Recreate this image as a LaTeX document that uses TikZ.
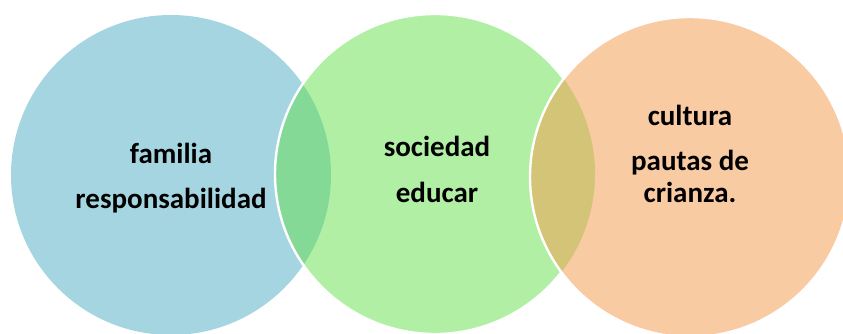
\documentclass[tikz,border=0pt]{standalone}
\usepackage{fontspec}
\setmainfont{Carlito}
\definecolor{cblue}{HTML}{A6D5E2}
\definecolor{cgreen}{HTML}{B1F0A4}
\definecolor{corange}{HTML}{F9CBA3}
\definecolor{ovgreen}{HTML}{85D996}
\definecolor{ovolive}{HTML}{D3C477}
\tikzset{
  venn/.style={circle, minimum size=320pt, inner sep=0pt, draw=none},
  ring/.style={draw=white, line width=2.4pt},
  lbl/.style={anchor=base, inner sep=0pt, font=\fontsize{29}{34}\selectfont\bfseries, text=black}
}
\begin{document}
\begin{tikzpicture}[x=1pt,y=-1pt]
\clip (0,0) rectangle (843,334);
\fill[white] (0,0) rectangle (843,334);
% left circle
\node[venn, fill=cblue] (c1) at (171,175) {};
% middle circle
\node[venn, fill=cgreen] (c2) at (435,174) {};
\begin{scope}
  \clip (171,175) circle (160);
  \fill[ovgreen] (435,174) circle (160);
\end{scope}
\draw[ring] (435,174) circle (160);
% right circle
\node[venn, fill=corange] (c3) at (690,177) {};
\begin{scope}
  \clip (435,174) circle (160);
  \fill[ovolive] (690,177) circle (160);
\end{scope}
\draw[ring] (690,177) circle (160);
% labels
\node[lbl] (t1) at (171,163) {familia};
\node[lbl] (t2) at (171,208) {responsabilidad};
\node[lbl] (t3) at (437,157) {sociedad};
\node[lbl] (t4) at (437,202) {educar};
\node[lbl] (t5) at (690,126) {cultura};
\node[lbl] (t6) at (690,170) {pautas de};
\node[lbl] (t7) at (690,202) {crianza.};
\end{tikzpicture}
\end{document}
